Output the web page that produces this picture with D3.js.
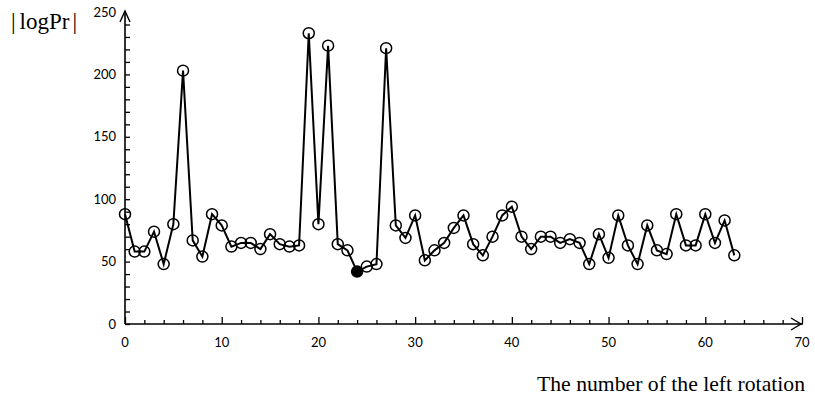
<!DOCTYPE html>
<html>
<head>
<meta charset="utf-8">
<script src="https://cdn.jsdelivr.net/npm/d3@7"></script>
<style>
    body { margin: 0; background: #fff; }
    svg { display: block; }
</style>
</head>
<body>
<div id="chart"></div>
<script>
// |logPr| for each left rotation 0..63
let rotations = d3.range(0, 64);
let logPr = [88, 58, 58, 74, 48, 80, 203, 67, 54, 88,
             79, 62, 65, 65, 60, 72, 64, 62, 63, 233,
             80, 223, 64, 59, 42, 46, 48, 221, 79, 69,
             87, 51, 59, 65, 77, 87, 64, 55, 70, 87,
             94, 70, 60, 70, 70, 65, 68, 65, 48, 72,
             53, 87, 63, 48, 79, 59, 56, 88, 63, 63,
             88, 65, 83, 55];
let bestIdx = 24;
let xTicks = [0, 10, 20, 30, 40, 50, 60, 70];
let yTicks = [0, 50, 100, 150, 200, 250];

let width = 815, height = 401;
let margin = {top: 12, right: 13, bottom: 77, left: 125};

let svg = d3.select("#chart").append("svg")
    .attr("width", width)
    .attr("height", height);

let x = d3.scaleLinear()
    .domain([0, 70])
    .range([margin.left, width - margin.right]);
let y = d3.scaleLinear()
    .domain([0, 250])
    .range([height - margin.bottom, margin.top]);

let axisColor = "#000";

// y axis with ticks on the inner side
let y_axis = g => g
    .attr("transform", `translate(${margin.left}, 0)`)
    .call(d3.axisRight(y).tickValues(d3.range(0, 250, 10)).tickSize(5).tickFormat(""))
    .call(g => g.select(".domain").remove())
    .call(g => g.selectAll("line").attr("stroke-width", 1.3));
svg.append("g").call(y_axis);

// x axis, minor every 2, major every 10
let x_axis = g => g
    .attr("transform", `translate(0, ${y(0)})`)
    .call(d3.axisTop(x).tickValues(d3.range(0, 71, 2).filter(d => d % 10 != 0)).tickSize(4).tickFormat(""))
    .call(g => g.select(".domain").remove())
    .call(g => g.selectAll("line").attr("stroke-width", 1.3));
svg.append("g").call(x_axis);
svg.append("g")
    .attr("transform", `translate(0, ${y(0)})`)
    .call(d3.axisTop(x).tickValues(xTicks).tickSize(7).tickFormat(""))
    .call(g => g.select(".domain").remove())
    .call(g => g.selectAll("line").attr("stroke-width", 1.3));

// axis lines with open arrows
svg.append("line")
    .attr("x1", margin.left).attr("x2", margin.left)
    .attr("y1", y(0)).attr("y2", y(250) - 1)
    .attr("stroke", axisColor).attr("stroke-width", 1.6);
svg.append("path")
    .attr("d", `M${margin.left - 5},${y(250) + 10} L${margin.left},${y(250) - 1} L${margin.left + 5},${y(250) + 10}`)
    .attr("fill", "none").attr("stroke", axisColor).attr("stroke-width", 1.4);
svg.append("line")
    .attr("x1", margin.left).attr("x2", x(70) + 1)
    .attr("y1", y(0)).attr("y2", y(0))
    .attr("stroke", axisColor).attr("stroke-width", 1.6);
svg.append("path")
    .attr("d", `M${x(70) - 11},${y(0) - 6} L${x(70) - 1},${y(0)} L${x(70) - 11},${y(0) + 6}`)
    .attr("fill", "none").attr("stroke", axisColor).attr("stroke-width", 1.4);

// tick labels
svg.append("g").selectAll("text")
    .data(yTicks)
    .join("text")
    .attr("x", margin.left - 9)
    .attr("y", d => y(d))
    .attr("dy", "0.35em")
    .attr("text-anchor", "end")
    .style("font-family", "Lato, 'Open Sans', sans-serif")
    .style("font-size", "13px")
    .text(d => d);
svg.append("g").selectAll("text")
    .data(xTicks)
    .join("text")
    .attr("x", d => x(d))
    .attr("y", y(0) + 23)
    .attr("text-anchor", "middle")
    .style("font-family", "Lato, 'Open Sans', sans-serif")
    .style("font-size", "13px")
    .text(d => d);

// axis titles
let serif = "'Liberation Serif', 'Times New Roman', serif";
let ylab = svg.append("text")
    .attr("x", 11)
    .attr("y", 29)
    .style("font-family", serif)
    .style("font-size", "23px");
ylab.append("tspan").text("|");
ylab.append("tspan").attr("dx", 4).text("logPr");
ylab.append("tspan").attr("dx", 3).text("|");
svg.append("text")
    .attr("x", 805)
    .attr("y", 391)
    .attr("text-anchor", "end")
    .style("font-family", serif)
    .style("font-size", "21.7px")
    .text("The number of the left rotation");

// series
let line = d3.line()
    .x((d, i) => x(rotations[i]))
    .y(d => y(d));
svg.append("path")
    .datum(logPr)
    .attr("fill", "none")
    .attr("stroke", "#000")
    .attr("stroke-width", 2)
    .attr("d", line);

svg.append("g").selectAll("circle")
    .data(logPr)
    .join("circle")
    .attr("cx", (d, i) => x(rotations[i]))
    .attr("cy", d => y(d))
    .attr("r", 5.5)
    .attr("fill", (d, i) => i == bestIdx ? "#000" : "none")
    .attr("stroke", "#000")
    .attr("stroke-width", 1.5);
</script>
</body>
</html>
